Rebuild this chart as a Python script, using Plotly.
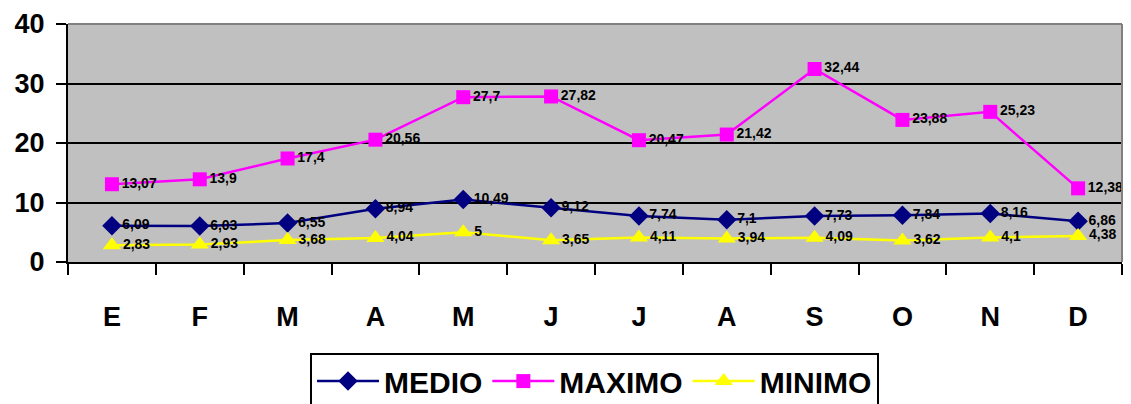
import plotly.graph_objects as go

months = ["E", "F", "M", "A", "M", "J", "J", "A", "S", "O", "N", "D"]
medio = [6.09, 6.03, 6.55, 8.94, 10.49, 9.12, 7.74, 7.1, 7.73, 7.84, 8.16, 6.86]
maximo = [13.07, 13.9, 17.4, 20.56, 27.7, 27.82, 20.47, 21.42, 32.44, 23.88, 25.23, 12.38]
minimo = [2.83, 2.93, 3.68, 4.04, 5, 3.65, 4.11, 3.94, 4.09, 3.62, 4.1, 4.38]
y_ticks = [0, 10, 20, 30, 40]

FONT = "Liberation Sans, Arial, sans-serif"
xpos = list(range(len(months)))


def fmt(v):
    return ("%g" % v).replace(".", ",")


series = [
    ("MEDIO", medio, "#000080", "diamond", 15),
    ("MAXIMO", maximo, "#FF00FF", "square", 14),
    ("MINIMO", minimo, "#FFFF00", "triangle-up", 16),
]

fig = go.Figure()
for name, vals, col, sym, sz in series:
    fig.add_trace(go.Scatter(
        x=xpos, y=vals, name=name, mode="lines+markers+text",
        line=dict(color=col, width=2.5),
        marker=dict(symbol=sym, size=sz, color=col),
        text=[fmt(v) for v in vals], textposition="middle right",
        textfont=dict(family=FONT, size=14, color="black", weight="bold"),
        cliponaxis=False,
    ))

fig.update_layout(
    width=1131, height=404,
    margin=dict(l=68, r=9, t=22, b=142),
    paper_bgcolor="white", plot_bgcolor="#C0C0C0",
    font=dict(family=FONT, color="black"),
    showlegend=True,
    legend=dict(
        orientation="h", x=0.2296, xanchor="left",
        yref="container", y=0.126, yanchor="top",
        bgcolor="white", bordercolor="black", borderwidth=2,
        font=dict(family=FONT, size=30, color="black", weight="bold"),
        itemwidth=62, tracegroupgap=0,
    ),
    xaxis=dict(
        range=[-0.5, len(months) - 0.5], tickvals=xpos, ticktext=months,
        ticks="", showgrid=False, zeroline=False,
        showline=True, linecolor="black", linewidth=2,
        tickfont=dict(family=FONT, size=27, color="black", weight="bold"),
        ticklabelstandoff=30,
        minor=dict(ticks="outside", tick0=-0.5, dtick=1, ticklen=11,
                   tickwidth=2, tickcolor="black", showgrid=False),
    ),
    yaxis=dict(
        range=[0, 40], tickvals=y_ticks, ticks="outside", ticklen=10,
        tickwidth=2, tickcolor="black",
        showgrid=True, gridcolor="black", gridwidth=2, zeroline=False,
        showline=True, linecolor="black", linewidth=2,
        ticklabelstandoff=6,
        tickfont=dict(family=FONT, size=27, color="black", weight="bold"),
    ),
    shapes=[
        dict(type="line", xref="paper", yref="paper", x0=0, x1=1, y0=1, y1=1,
             line=dict(color="#808080", width=2), layer="above"),
        dict(type="line", xref="paper", yref="paper", x0=1, x1=1, y0=0, y1=1,
             line=dict(color="#808080", width=2), layer="above"),
    ],
)

fig.write_html("out.html")
